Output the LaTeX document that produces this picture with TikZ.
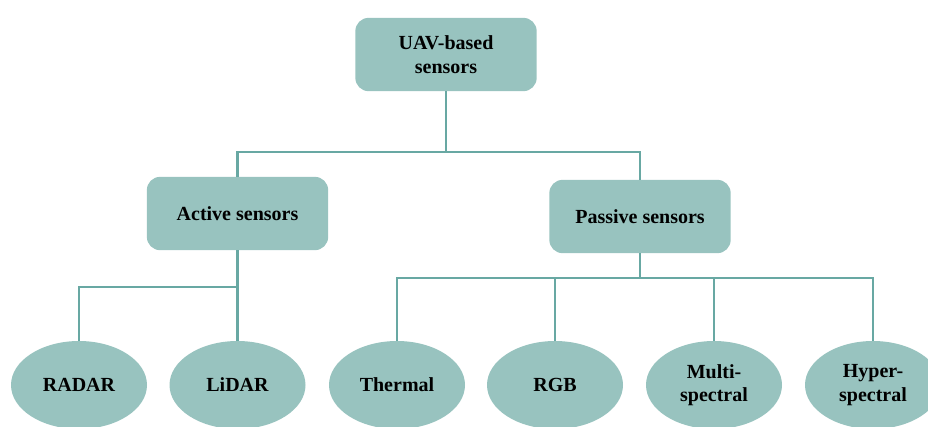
\documentclass[tikz,border=0pt]{standalone}
\usepackage{fontspec}
\setmainfont{Liberation Serif}
\usetikzlibrary{shapes.geometric}
\definecolor{boxfill}{HTML}{98C3BF}
\definecolor{linkline}{HTML}{68A8A3}
\begin{document}
\begin{tikzpicture}[x=0.75pt,y=-0.75pt,
  base/.style={fill=boxfill,draw=none,align=center,inner sep=0pt,
    font=\fontsize{15}{17.5}\selectfont\bfseries},
  rbox/.style={base,rectangle,rounded corners=10pt,minimum width=136pt,minimum height=55pt},
  oval/.style={base,ellipse,minimum width=102pt,minimum height=66pt},
  conn/.style={draw=linkline,line width=1.6pt}]
\useasboundingbox (0,0) rectangle (928,426);

% tree levels
\node[rbox] (top) at (446,54.5) {UAV-based\\sensors};
\node[rbox] (active) at (237.5,213.5) {Active sensors};
\node[rbox] (passive) at (640,216.5) {Passive sensors};

\node[oval] (radar) at (79,385) {RADAR};
\node[oval] (lidar) at (237.5,385) {LiDAR};
\node[oval] (thermal) at (397,385) {Thermal};
\node[oval] (rgb) at (555,385) {RGB};
\node[oval] (multi) at (714,385) {Multi-\\spectral};
\node[oval] (hyper) at (873,385) {Hyper-\\spectral};

% bus lines
\coordinate (busA) at (0,152);
\coordinate (busB) at (0,287);
\coordinate (busC) at (0,278);

\draw[conn] (top.south) -- (top.south |- busA);
\draw[conn] (active.north) -- (active.north |- busA) -- (passive.north |- busA) -- (passive.north);

\draw[conn] (active.south) -- (lidar.north);
\draw[conn] (radar.north) -- (radar.north |- busB) -- (active.south |- busB);

\draw[conn] (passive.south) -- (passive.south |- busC);
\draw[conn] (thermal.north) -- (thermal.north |- busC) -- (hyper.north |- busC) -- (hyper.north);
\draw[conn] (rgb.north) -- (rgb.north |- busC);
\draw[conn] (multi.north) -- (multi.north |- busC);
\end{tikzpicture}
\end{document}
